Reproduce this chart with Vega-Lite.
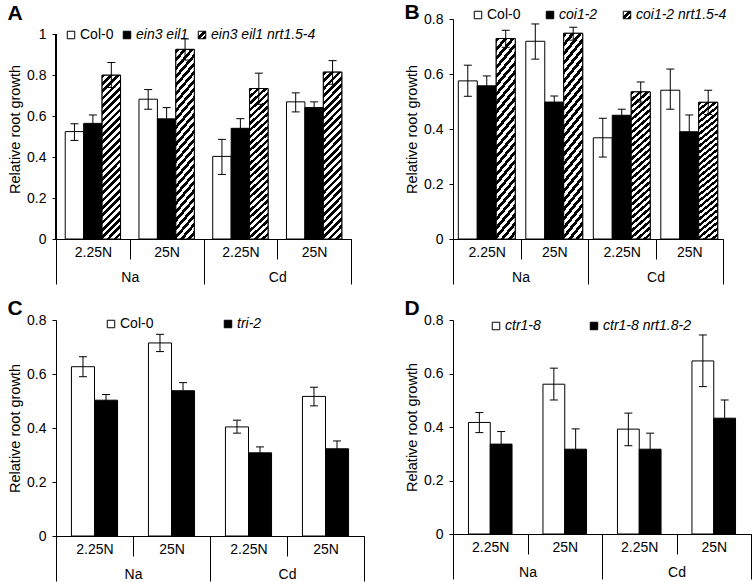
{
  "$schema": "https://vega.github.io/schema/vega-lite/v6.json",
  "padding": {"left": 7, "top": 2, "right": 0, "bottom": 0},
  "params": [
    {"name": "hatch", "value": {"gradient": "linear", "x1": 0, "y1": 0, "x2": 0.124, "y2": 1.099, "stops": [
      {"offset": 0, "color": "#000"}, {"offset": 0.02, "color": "#000"}, {"offset": 0.02, "color": "#fff"}, {"offset": 0.04, "color": "#fff"},
      {"offset": 0.04, "color": "#000"}, {"offset": 0.06, "color": "#000"}, {"offset": 0.06, "color": "#fff"}, {"offset": 0.08, "color": "#fff"},
      {"offset": 0.08, "color": "#000"}, {"offset": 0.10, "color": "#000"}, {"offset": 0.10, "color": "#fff"}, {"offset": 0.12, "color": "#fff"},
      {"offset": 0.12, "color": "#000"}, {"offset": 0.14, "color": "#000"}, {"offset": 0.14, "color": "#fff"}, {"offset": 0.16, "color": "#fff"},
      {"offset": 0.16, "color": "#000"}, {"offset": 0.18, "color": "#000"}, {"offset": 0.18, "color": "#fff"}, {"offset": 0.20, "color": "#fff"},
      {"offset": 0.20, "color": "#000"}, {"offset": 0.22, "color": "#000"}, {"offset": 0.22, "color": "#fff"}, {"offset": 0.24, "color": "#fff"},
      {"offset": 0.24, "color": "#000"}, {"offset": 0.26, "color": "#000"}, {"offset": 0.26, "color": "#fff"}, {"offset": 0.28, "color": "#fff"},
      {"offset": 0.28, "color": "#000"}, {"offset": 0.30, "color": "#000"}, {"offset": 0.30, "color": "#fff"}, {"offset": 0.32, "color": "#fff"},
      {"offset": 0.32, "color": "#000"}, {"offset": 0.34, "color": "#000"}, {"offset": 0.34, "color": "#fff"}, {"offset": 0.36, "color": "#fff"},
      {"offset": 0.36, "color": "#000"}, {"offset": 0.38, "color": "#000"}, {"offset": 0.38, "color": "#fff"}, {"offset": 0.40, "color": "#fff"},
      {"offset": 0.40, "color": "#000"}, {"offset": 0.42, "color": "#000"}, {"offset": 0.42, "color": "#fff"}, {"offset": 0.44, "color": "#fff"},
      {"offset": 0.44, "color": "#000"}, {"offset": 0.46, "color": "#000"}, {"offset": 0.46, "color": "#fff"}, {"offset": 0.48, "color": "#fff"},
      {"offset": 0.48, "color": "#000"}, {"offset": 0.50, "color": "#000"}, {"offset": 0.50, "color": "#fff"}, {"offset": 0.52, "color": "#fff"},
      {"offset": 0.52, "color": "#000"}, {"offset": 0.54, "color": "#000"}, {"offset": 0.54, "color": "#fff"}, {"offset": 0.56, "color": "#fff"},
      {"offset": 0.56, "color": "#000"}, {"offset": 0.58, "color": "#000"}, {"offset": 0.58, "color": "#fff"}, {"offset": 0.60, "color": "#fff"},
      {"offset": 0.60, "color": "#000"}, {"offset": 0.62, "color": "#000"}, {"offset": 0.62, "color": "#fff"}, {"offset": 0.64, "color": "#fff"},
      {"offset": 0.64, "color": "#000"}, {"offset": 0.66, "color": "#000"}, {"offset": 0.66, "color": "#fff"}, {"offset": 0.68, "color": "#fff"},
      {"offset": 0.68, "color": "#000"}, {"offset": 0.70, "color": "#000"}, {"offset": 0.70, "color": "#fff"}, {"offset": 0.72, "color": "#fff"},
      {"offset": 0.72, "color": "#000"}, {"offset": 0.74, "color": "#000"}, {"offset": 0.74, "color": "#fff"}, {"offset": 0.76, "color": "#fff"},
      {"offset": 0.76, "color": "#000"}, {"offset": 0.78, "color": "#000"}, {"offset": 0.78, "color": "#fff"}, {"offset": 0.80, "color": "#fff"},
      {"offset": 0.80, "color": "#000"}, {"offset": 0.82, "color": "#000"}, {"offset": 0.82, "color": "#fff"}, {"offset": 0.84, "color": "#fff"},
      {"offset": 0.84, "color": "#000"}, {"offset": 0.86, "color": "#000"}, {"offset": 0.86, "color": "#fff"}, {"offset": 0.88, "color": "#fff"},
      {"offset": 0.88, "color": "#000"}, {"offset": 0.90, "color": "#000"}, {"offset": 0.90, "color": "#fff"}, {"offset": 0.92, "color": "#fff"},
      {"offset": 0.92, "color": "#000"}, {"offset": 0.94, "color": "#000"}, {"offset": 0.94, "color": "#fff"}, {"offset": 0.96, "color": "#fff"},
      {"offset": 0.96, "color": "#000"}, {"offset": 0.98, "color": "#000"}, {"offset": 0.98, "color": "#fff"}, {"offset": 1, "color": "#fff"}
    ]}},
    {"name": "hatchL", "value": {"gradient": "linear", "x1": 0, "y1": 0, "x2": 1, "y2": 1, "stops": [
      {"offset": 0, "color": "#fff"}, {"offset": 0.35, "color": "#fff"}, {"offset": 0.35, "color": "#000"}, {"offset": 0.6, "color": "#000"},
      {"offset": 0.6, "color": "#fff"}, {"offset": 0.72, "color": "#fff"}, {"offset": 0.72, "color": "#000"}, {"offset": 1, "color": "#000"}
    ]}}
  ],
  "datasets": {
    "A": [
      {"grp": "Na 2.25N", "ion": "Na", "g": "Col-0", "v": 0.524, "lo": 0.481, "hi": 0.562},
      {"grp": "Na 2.25N", "ion": "Na", "g": "ein3 eil1", "v": 0.564, "lo": 0.524, "hi": 0.605},
      {"grp": "Na 2.25N", "ion": "Na", "g": "ein3 eil1 nrt1.5-4", "v": 0.799, "lo": 0.739, "hi": 0.861},
      {"grp": "Na 25N", "ion": "Na", "g": "Col-0", "v": 0.682, "lo": 0.633, "hi": 0.729},
      {"grp": "Na 25N", "ion": "Na", "g": "ein3 eil1", "v": 0.586, "lo": 0.527, "hi": 0.641},
      {"grp": "Na 25N", "ion": "Na", "g": "ein3 eil1 nrt1.5-4", "v": 0.925, "lo": 0.873, "hi": 0.976},
      {"grp": "Cd 2.25N", "ion": "Cd", "g": "Col-0", "v": 0.403, "lo": 0.315, "hi": 0.486},
      {"grp": "Cd 2.25N", "ion": "Cd", "g": "ein3 eil1", "v": 0.540, "lo": 0.494, "hi": 0.587},
      {"grp": "Cd 2.25N", "ion": "Cd", "g": "ein3 eil1 nrt1.5-4", "v": 0.734, "lo": 0.657, "hi": 0.809},
      {"grp": "Cd 25N", "ion": "Cd", "g": "Col-0", "v": 0.669, "lo": 0.620, "hi": 0.713},
      {"grp": "Cd 25N", "ion": "Cd", "g": "ein3 eil1", "v": 0.641, "lo": 0.608, "hi": 0.669},
      {"grp": "Cd 25N", "ion": "Cd", "g": "ein3 eil1 nrt1.5-4", "v": 0.814, "lo": 0.755, "hi": 0.870}
    ],
    "B": [
      {"grp": "Na 2.25N", "ion": "Na", "g": "Col-0", "v": 0.575, "lo": 0.519, "hi": 0.632},
      {"grp": "Na 2.25N", "ion": "Na", "g": "coi1-2", "v": 0.557, "lo": 0.520, "hi": 0.593},
      {"grp": "Na 2.25N", "ion": "Na", "g": "coi1-2 nrt1.5-4", "v": 0.729, "lo": 0.697, "hi": 0.759},
      {"grp": "Na 25N", "ion": "Na", "g": "Col-0", "v": 0.719, "lo": 0.654, "hi": 0.782},
      {"grp": "Na 25N", "ion": "Na", "g": "coi1-2", "v": 0.498, "lo": 0.478, "hi": 0.520},
      {"grp": "Na 25N", "ion": "Na", "g": "coi1-2 nrt1.5-4", "v": 0.748, "lo": 0.723, "hi": 0.770},
      {"grp": "Cd 2.25N", "ion": "Cd", "g": "Col-0", "v": 0.368, "lo": 0.298, "hi": 0.439},
      {"grp": "Cd 2.25N", "ion": "Cd", "g": "coi1-2", "v": 0.450, "lo": 0.429, "hi": 0.472},
      {"grp": "Cd 2.25N", "ion": "Cd", "g": "coi1-2 nrt1.5-4", "v": 0.535, "lo": 0.498, "hi": 0.571},
      {"grp": "Cd 25N", "ion": "Cd", "g": "Col-0", "v": 0.541, "lo": 0.472, "hi": 0.618},
      {"grp": "Cd 25N", "ion": "Cd", "g": "coi1-2", "v": 0.390, "lo": 0.332, "hi": 0.451},
      {"grp": "Cd 25N", "ion": "Cd", "g": "coi1-2 nrt1.5-4", "v": 0.497, "lo": 0.453, "hi": 0.541}
    ],
    "C": [
      {"grp": "Na 2.25N", "ion": "Na", "g": "Col-0", "v": 0.627, "lo": 0.590, "hi": 0.664},
      {"grp": "Na 2.25N", "ion": "Na", "g": "tri-2", "v": 0.503, "lo": 0.482, "hi": 0.524},
      {"grp": "Na 25N", "ion": "Na", "g": "Col-0", "v": 0.715, "lo": 0.683, "hi": 0.747},
      {"grp": "Na 25N", "ion": "Na", "g": "tri-2", "v": 0.538, "lo": 0.508, "hi": 0.568},
      {"grp": "Cd 2.25N", "ion": "Cd", "g": "Col-0", "v": 0.404, "lo": 0.381, "hi": 0.429},
      {"grp": "Cd 2.25N", "ion": "Cd", "g": "tri-2", "v": 0.308, "lo": 0.286, "hi": 0.330},
      {"grp": "Cd 25N", "ion": "Cd", "g": "Col-0", "v": 0.517, "lo": 0.482, "hi": 0.551},
      {"grp": "Cd 25N", "ion": "Cd", "g": "tri-2", "v": 0.323, "lo": 0.293, "hi": 0.352}
    ],
    "D": [
      {"grp": "Na 2.25N", "ion": "Na", "g": "ctr1-8", "v": 0.417, "lo": 0.379, "hi": 0.454},
      {"grp": "Na 2.25N", "ion": "Na", "g": "ctr1-8 nrt1.8-2", "v": 0.336, "lo": 0.289, "hi": 0.383},
      {"grp": "Na 25N", "ion": "Na", "g": "ctr1-8", "v": 0.560, "lo": 0.501, "hi": 0.620},
      {"grp": "Na 25N", "ion": "Na", "g": "ctr1-8 nrt1.8-2", "v": 0.317, "lo": 0.241, "hi": 0.393},
      {"grp": "Cd 2.25N", "ion": "Cd", "g": "ctr1-8", "v": 0.392, "lo": 0.330, "hi": 0.452},
      {"grp": "Cd 2.25N", "ion": "Cd", "g": "ctr1-8 nrt1.8-2", "v": 0.317, "lo": 0.257, "hi": 0.377},
      {"grp": "Cd 25N", "ion": "Cd", "g": "ctr1-8", "v": 0.647, "lo": 0.551, "hi": 0.744},
      {"grp": "Cd 25N", "ion": "Cd", "g": "ctr1-8 nrt1.8-2", "v": 0.433, "lo": 0.365, "hi": 0.501}
    ]
  },
  "spacing": 39,
  "resolve": {"scale": {"fill": "independent", "xOffset": "independent", "y": "independent"}, "legend": {"fill": "independent"}},
  "hconcat": [
    {
      "spacing": 13,
      "resolve": {"scale": {"fill": "independent", "xOffset": "independent", "y": "independent"}, "legend": {"fill": "independent"}},
      "vconcat": [
        {
          "data": {"name": "A"},
          "width": 295, "height": 220,
          "title": {"text": "A", "offset": -5},
          "resolve": {"scale": {"x": "independent"}},
          "layer": [
            {
              "encoding": {
                "x": {"field": "grp", "type": "nominal", "sort": null, "scale": {"domain": ["Na 2.25N", "Na 25N", "Cd 2.25N", "Cd 25N"], "paddingInner": 0, "paddingOuter": 0},
                      "axis": {"title": null, "orient": "bottom", "offset": 0, "tickBand": "extent", "tickSize": 20, "labelPadding": -14, "labelAngle": 0, "labelExpr": "split(datum.label, ' ')[1]"}},
                "xOffset": {"field": "g", "type": "nominal", "scale": {"domain": ["Col-0", "ein3 eil1", "ein3 eil1 nrt1.5-4"], "paddingInner": 0, "paddingOuter": 0.5}}
              },
              "layer": [
                {"mark": {"type": "bar", "stroke": "black", "strokeWidth": 1},
                 "encoding": {
                   "y": {"field": "v", "type": "quantitative", "scale": {"domain": [0, 1.0732], "nice": false}, "axis": {"title": "Relative root growth", "domain": false, "values": [0, 0.2, 0.4, 0.6, 0.8, 1], "format": "~g"}},
                   "fill": {"field": "g", "type": "nominal", "scale": {"domain": ["Col-0", "ein3 eil1", "ein3 eil1 nrt1.5-4"], "range": ["white", "black", {"expr": "hatchL"}]},
                     "legend": {"title": null, "orient": "none", "legendX": 8, "legendY": 9, "direction": "horizontal", "columnPadding": 6,
                       "encode": {
                         "labels": {"update": {"fontStyle": {"signal": "datum.value === 'Col-0' ? 'normal' : 'italic'"}}},
                         "symbols": {"update": {"stroke": {"value": "black"}, "strokeWidth": {"value": 1}, "opacity": {"value": 1}}}
                       }}}
                 }},
                {"transform": [{"filter": "datum.g === 'ein3 eil1 nrt1.5-4'"}],
                 "mark": {"type": "bar", "fill": {"expr": "hatch"}, "stroke": "black", "strokeWidth": 1},
                 "encoding": {"y": {"field": "v", "type": "quantitative"}}},
                {"mark": {"type": "rule", "color": "black", "strokeWidth": 1},
                 "encoding": {"y": {"field": "lo", "type": "quantitative"}, "y2": {"field": "hi"}}},
                {"mark": {"type": "tick", "color": "black", "size": 8, "thickness": 1, "opacity": 1},
                 "encoding": {"y": {"field": "hi", "type": "quantitative"}}},
                {"mark": {"type": "tick", "color": "black", "size": 8, "thickness": 1, "opacity": 1},
                 "encoding": {"y": {"field": "lo", "type": "quantitative"}}},
                {"mark": {"type": "rule", "color": "black", "strokeWidth": 1},
                 "encoding": {"xOffset": {"value": 0}, "x": {"datum": "Na 2.25N", "bandPosition": 0}, "y": {"datum": 0}, "y2": {"datum": 1}}}
              ]
            },
            {"mark": {"type": "tick", "opacity": 0},
             "encoding": {"x": {"field": "ion", "type": "nominal", "sort": null, "scale": {"domain": ["Na", "Cd"], "paddingInner": 0, "paddingOuter": 0},
               "axis": {"title": null, "orient": "bottom", "offset": 0, "domain": false, "tickBand": "extent", "tickSize": 45, "labelPadding": -14, "labelAngle": 0}}}}
          ]
        },
        {
          "data": {"name": "C"},
          "width": 308, "height": 216,
          "title": {"text": "C", "offset": -6},
          "resolve": {"scale": {"x": "independent"}},
          "layer": [
            {
              "encoding": {
                "x": {"field": "grp", "type": "nominal", "sort": null, "scale": {"domain": ["Na 2.25N", "Na 25N", "Cd 2.25N", "Cd 25N"], "paddingInner": 0, "paddingOuter": 0},
                      "axis": {"title": null, "orient": "bottom", "offset": 0, "tickBand": "extent", "tickSize": 20, "labelPadding": -14, "labelAngle": 0, "labelExpr": "split(datum.label, ' ')[1]"}},
                "xOffset": {"field": "g", "type": "nominal", "scale": {"domain": ["Col-0", "tri-2"], "paddingInner": 0, "paddingOuter": 0.67}}
              },
              "layer": [
                {"mark": {"type": "bar", "stroke": "black", "strokeWidth": 1},
                 "encoding": {
                   "y": {"field": "v", "type": "quantitative", "scale": {"domain": [0, 0.8], "nice": false}, "axis": {"title": "Relative root growth", "values": [0, 0.2, 0.4, 0.6, 0.8], "format": "~g"}},
                   "fill": {"field": "g", "type": "nominal", "scale": {"domain": ["Col-0", "tri-2"], "range": ["white", "black"]},
                     "legend": {"title": null, "orient": "none", "legendX": 48, "legendY": -3, "direction": "horizontal", "columnPadding": 67,
                       "encode": {
                         "labels": {"update": {"fontStyle": {"signal": "datum.value === 'Col-0' ? 'normal' : 'italic'"}}},
                         "symbols": {"update": {"stroke": {"value": "black"}, "strokeWidth": {"value": 1}, "opacity": {"value": 1}}}
                       }}}
                 }},
                {"mark": {"type": "rule", "color": "black", "strokeWidth": 1},
                 "encoding": {"y": {"field": "lo", "type": "quantitative"}, "y2": {"field": "hi"}}},
                {"mark": {"type": "tick", "color": "black", "size": 8, "thickness": 1, "opacity": 1},
                 "encoding": {"y": {"field": "hi", "type": "quantitative"}}},
                {"mark": {"type": "tick", "color": "black", "size": 8, "thickness": 1, "opacity": 1},
                 "encoding": {"y": {"field": "lo", "type": "quantitative"}}}
              ]
            },
            {"mark": {"type": "tick", "opacity": 0},
             "encoding": {"x": {"field": "ion", "type": "nominal", "sort": null, "scale": {"domain": ["Na", "Cd"], "paddingInner": 0, "paddingOuter": 0},
               "axis": {"title": null, "orient": "bottom", "offset": 0, "domain": false, "tickBand": "extent", "tickSize": 45, "labelPadding": -14, "labelAngle": 0}}}}
          ]
        }
      ]
    },
    {
      "spacing": 13,
      "resolve": {"scale": {"fill": "independent", "xOffset": "independent", "y": "independent"}, "legend": {"fill": "independent"}},
      "vconcat": [
        {
          "data": {"name": "B"},
          "width": 270, "height": 220,
          "title": {"text": "B", "offset": -15},
          "resolve": {"scale": {"x": "independent"}},
          "layer": [
            {
              "encoding": {
                "x": {"field": "grp", "type": "nominal", "sort": null, "scale": {"domain": ["Na 2.25N", "Na 25N", "Cd 2.25N", "Cd 25N"], "paddingInner": 0, "paddingOuter": 0},
                      "axis": {"title": null, "orient": "bottom", "offset": 0, "tickBand": "extent", "tickSize": 20, "labelPadding": -14, "labelAngle": 0, "labelExpr": "split(datum.label, ' ')[1]"}},
                "xOffset": {"field": "g", "type": "nominal", "scale": {"domain": ["Col-0", "coi1-2", "coi1-2 nrt1.5-4"], "paddingInner": 0, "paddingOuter": 0.28}}
              },
              "layer": [
                {"mark": {"type": "bar", "stroke": "black", "strokeWidth": 1},
                 "encoding": {
                   "y": {"field": "v", "type": "quantitative", "scale": {"domain": [0, 0.8], "nice": false}, "axis": {"title": "Relative root growth", "values": [0, 0.2, 0.4, 0.6, 0.8], "format": "~g"}},
                   "fill": {"field": "g", "type": "nominal", "scale": {"domain": ["Col-0", "coi1-2", "coi1-2 nrt1.5-4"], "range": ["white", "black", {"expr": "hatchL"}]},
                     "legend": {"title": null, "orient": "none", "legendX": 18, "legendY": -11, "direction": "horizontal", "columnPadding": 22,
                       "encode": {
                         "labels": {"update": {"fontStyle": {"signal": "datum.value === 'Col-0' ? 'normal' : 'italic'"}}},
                         "symbols": {"update": {"stroke": {"value": "black"}, "strokeWidth": {"value": 1}, "opacity": {"value": 1}}}
                       }}}
                 }},
                {"transform": [{"filter": "datum.g === 'coi1-2 nrt1.5-4'"}],
                 "mark": {"type": "bar", "fill": {"expr": "hatch"}, "stroke": "black", "strokeWidth": 1},
                 "encoding": {"y": {"field": "v", "type": "quantitative"}}},
                {"mark": {"type": "rule", "color": "black", "strokeWidth": 1},
                 "encoding": {"y": {"field": "lo", "type": "quantitative"}, "y2": {"field": "hi"}}},
                {"mark": {"type": "tick", "color": "black", "size": 8, "thickness": 1, "opacity": 1},
                 "encoding": {"y": {"field": "hi", "type": "quantitative"}}},
                {"mark": {"type": "tick", "color": "black", "size": 8, "thickness": 1, "opacity": 1},
                 "encoding": {"y": {"field": "lo", "type": "quantitative"}}}
              ]
            },
            {"mark": {"type": "tick", "opacity": 0},
             "encoding": {"x": {"field": "ion", "type": "nominal", "sort": null, "scale": {"domain": ["Na", "Cd"], "paddingInner": 0, "paddingOuter": 0},
               "axis": {"title": null, "orient": "bottom", "offset": 0, "domain": false, "tickBand": "extent", "tickSize": 45, "labelPadding": -14, "labelAngle": 0}}}}
          ]
        },
        {
          "data": {"name": "D"},
          "width": 298, "height": 214,
          "title": {"text": "D", "offset": -6},
          "resolve": {"scale": {"x": "independent"}},
          "layer": [
            {
              "encoding": {
                "x": {"field": "grp", "type": "nominal", "sort": null, "scale": {"domain": ["Na 2.25N", "Na 25N", "Cd 2.25N", "Cd 25N"], "paddingInner": 0, "paddingOuter": 0},
                      "axis": {"title": null, "orient": "bottom", "offset": 0, "tickBand": "extent", "tickSize": 20, "labelPadding": -14, "labelAngle": 0, "labelExpr": "split(datum.label, ' ')[1]"}},
                "xOffset": {"field": "g", "type": "nominal", "scale": {"domain": ["ctr1-8", "ctr1-8 nrt1.8-2"], "paddingInner": 0, "paddingOuter": 0.71}}
              },
              "layer": [
                {"mark": {"type": "bar", "stroke": "black", "strokeWidth": 1},
                 "encoding": {
                   "y": {"field": "v", "type": "quantitative", "scale": {"domain": [0, 0.8], "nice": false}, "axis": {"title": "Relative root growth", "values": [0, 0.2, 0.4, 0.6, 0.8], "format": "~g"}},
                   "fill": {"field": "g", "type": "nominal", "scale": {"domain": ["ctr1-8", "ctr1-8 nrt1.8-2"], "range": ["white", "black"]},
                     "legend": {"title": null, "orient": "none", "legendX": 36, "legendY": -1, "direction": "horizontal", "columnPadding": 46,
                       "encode": {
                         "labels": {"update": {"fontStyle": {"value": "italic"}}},
                         "symbols": {"update": {"stroke": {"value": "black"}, "strokeWidth": {"value": 1}, "opacity": {"value": 1}}}
                       }}}
                 }},
                {"mark": {"type": "rule", "color": "black", "strokeWidth": 1},
                 "encoding": {"y": {"field": "lo", "type": "quantitative"}, "y2": {"field": "hi"}}},
                {"mark": {"type": "tick", "color": "black", "size": 8, "thickness": 1, "opacity": 1},
                 "encoding": {"y": {"field": "hi", "type": "quantitative"}}},
                {"mark": {"type": "tick", "color": "black", "size": 8, "thickness": 1, "opacity": 1},
                 "encoding": {"y": {"field": "lo", "type": "quantitative"}}}
              ]
            },
            {"mark": {"type": "tick", "opacity": 0},
             "encoding": {"x": {"field": "ion", "type": "nominal", "sort": null, "scale": {"domain": ["Na", "Cd"], "paddingInner": 0, "paddingOuter": 0},
               "axis": {"title": null, "orient": "bottom", "offset": 0, "domain": false, "tickBand": "extent", "tickSize": 45, "labelPadding": -14, "labelAngle": 0}}}}
          ]
        }
      ]
    }
  ],
  "config": {
    "font": "Liberation Sans",
    "view": {"stroke": null},
    "axis": {"grid": false, "domainColor": "black", "tickColor": "black", "labelColor": "black", "titleColor": "black", "labelFontSize": 14, "titleFontSize": 14.5, "titleFontWeight": "normal", "domainWidth": 1, "tickWidth": 1},
    "axisY": {"tickSize": 4, "labelPadding": 6, "titlePadding": 4},
    "legend": {"symbolType": "square", "symbolSize": 56, "labelFontSize": 14, "labelColor": "black", "labelOffset": 2, "symbolStrokeColor": "black", "symbolStrokeWidth": 1, "padding": 0},
    "title": {"anchor": "start", "fontSize": 21, "fontWeight": "bold", "color": "black", "frame": "bounds"}
  }
}
